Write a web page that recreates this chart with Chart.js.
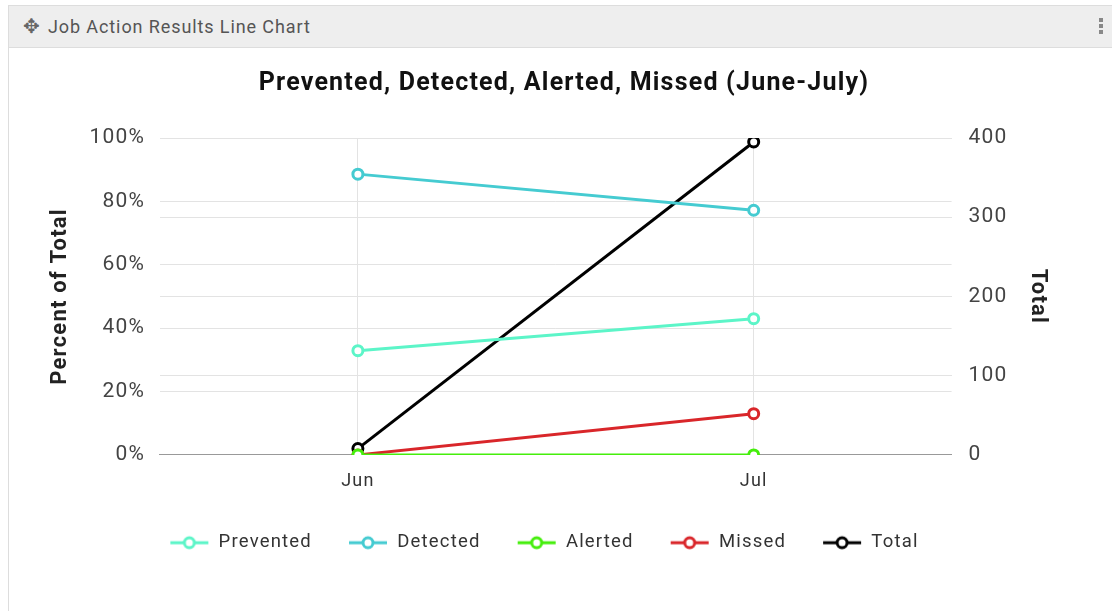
<!DOCTYPE html>
<html>
<head>
<meta charset="utf-8">
<script src="https://cdn.jsdelivr.net/npm/chart.js@4/dist/chart.umd.min.js"></script>
<style>
  body { margin: 0; background: #fff; font-family: Roboto, sans-serif; }
  .panel { position: absolute; left: 8px; top: 5px; right: -2px; bottom: -2px; border: 1px solid #ddd; }
  .head { height: 41px; background: #eeeeee; border-bottom: 1px solid #ddd; color: #555; font-size: 18px; letter-spacing: 0.9px; line-height: 41px; padding-left: 14px; }
  .head .ico { font-size: 20px; letter-spacing: 0; margin-right: 8px; color: #666; }
  .head .dots { position: absolute; right: 10px; top: 12px; width: 4px; }
  .head .dots i { display: block; width: 4px; height: 4px; background: #888; margin-bottom: 2px; }
  .body { position: absolute; left: 0; top: 42px; right: 0; bottom: 0; }
</style>
</head>
<body>
<div class="panel">
  <div class="head"><span class="ico">&#10021;</span>Job Action Results Line Chart<span class="dots"><i></i><i></i><i></i></span></div>
  <div class="body"><canvas id="lineChart"></canvas></div>
</div>
<script>
  var months = ["Jun", "Jul"];
  var prevented = [32.9, 43.0];
  var detected = [88.6, 77.2];
  var alerted = [0, 0];
  var missed = [0, 13.0];
  var total = [8, 395];

  var colors = ["#5cf5c8", "#45cbd1", "#45ee0c", "#d9262a", "#000000"];

  function legendIcon(color) {
    var c = document.createElement('canvas');
    c.width = 40; c.height = 16;
    var g = c.getContext('2d');
    g.strokeStyle = color;
    g.lineWidth = 3;
    g.beginPath(); g.moveTo(1, 8); g.lineTo(39, 8); g.stroke();
    g.fillStyle = '#fff';
    g.beginPath(); g.arc(20, 8, 5, 0, Math.PI * 2); g.fill(); g.stroke();
    return c;
  }

  function ds(label, data, color, axis) {
    return {
      label: label,
      data: data,
      yAxisID: axis,
      borderColor: color,
      backgroundColor: '#fff',
      borderWidth: 3,
      pointRadius: 5,
      pointBorderWidth: 3,
      pointBackgroundColor: '#fff',
      pointBorderColor: color
    };
  }

  // wider tracking, like the original rendering
  var spacing = {
    id: 'spacing',
    beforeLayout: function (chart) { chart.ctx.letterSpacing = '1.2px'; },
    beforeDraw: function (chart) { chart.ctx.letterSpacing = '1.2px'; }
  };
  // pull the legend closer to the x axis, a bit to the left
  var legendTrim = {
    id: 'legendTrim',
    afterInit: function (chart) {
      var l = chart.legend;
      var fit = l.fit;
      l.fit = function () { fit.call(this); this.height -= 12; };
    },
    afterLayout: function (chart) {
      chart.legend.top -= 11;
      chart.legend.bottom -= 11;
      chart.legend.left -= 20;
      chart.legend.right -= 20;
    }
  };

  var ctx = document.getElementById("lineChart").getContext('2d');
  var myLineChart = new Chart(ctx, {
    type: 'line',
    plugins: [spacing, legendTrim],
    data: {
      labels: months,
      datasets: [
        ds("Prevented", prevented, colors[0], 'yPct'),
        ds("Detected", detected, colors[1], 'yPct'),
        ds("Alerted", alerted, colors[2], 'yPct'),
        ds("Missed", missed, colors[3], 'yPct'),
        ds("Total", total, colors[4], 'yTotal')
      ]
    },
    options: {
      responsive: true,
      maintainAspectRatio: false,
      animation: false,
      layout: { padding: { left: 37, right: 31, top: 5, bottom: 51 } },
      plugins: {
        title: {
          display: true,
          text: 'Prevented, Detected, Alerted, Missed (June-July)',
          color: '#111',
          font: { family: 'Roboto', size: 25, weight: 'bold' },
          padding: { top: 16, bottom: 39 }
        },
        legend: {
          position: 'bottom',
          labels: {
            usePointStyle: true,
            pointStyleWidth: 40,
            boxHeight: 16,
            padding: 36,
            color: '#333',
            font: { family: 'Roboto', size: 18.5 },
            generateLabels: function (chart) {
              return chart.data.datasets.map(function (d, i) {
                return {
                  text: d.label,
                  pointStyle: legendIcon(d.borderColor),
                  fillStyle: '#fff',
                  strokeStyle: d.borderColor,
                  fontColor: '#333',
                  lineWidth: 0,
                  hidden: !chart.isDatasetVisible(i),
                  datasetIndex: i
                };
              });
            }
          }
        }
      },
      scales: {
        x: {
          offset: true,
          grid: { color: '#e3e3e3', drawTicks: false },
          border: { color: '#999', width: 1 },
          ticks: { color: '#333', padding: 16, font: { family: 'Roboto', size: 18 } }
        },
        yPct: {
          position: 'left',
          min: 0, max: 100,
          ticks: { stepSize: 20, color: '#444', padding: 15, font: { family: 'Roboto', size: 21 }, callback: function (v) { return v + '%'; } },
          grid: { color: '#e3e3e3', drawTicks: false },
          border: { display: false },
          title: { display: true, text: 'Percent of Total', color: '#222', font: { family: 'Roboto', size: 22, weight: 'bold' }, padding: { top: 1, bottom: 1 } }
        },
        yTotal: {
          position: 'right',
          min: 0, max: 400,
          ticks: { stepSize: 100, color: '#444', padding: 17, font: { family: 'Roboto', size: 21 } },
          grid: { color: '#e3e3e3', drawTicks: false },
          border: { display: false },
          title: { display: true, text: 'Total', color: '#222', font: { family: 'Roboto', size: 22, weight: 'bold' }, padding: { top: 31, bottom: 0 } }
        }
      }
    }
  });
</script>
</body>
</html>
